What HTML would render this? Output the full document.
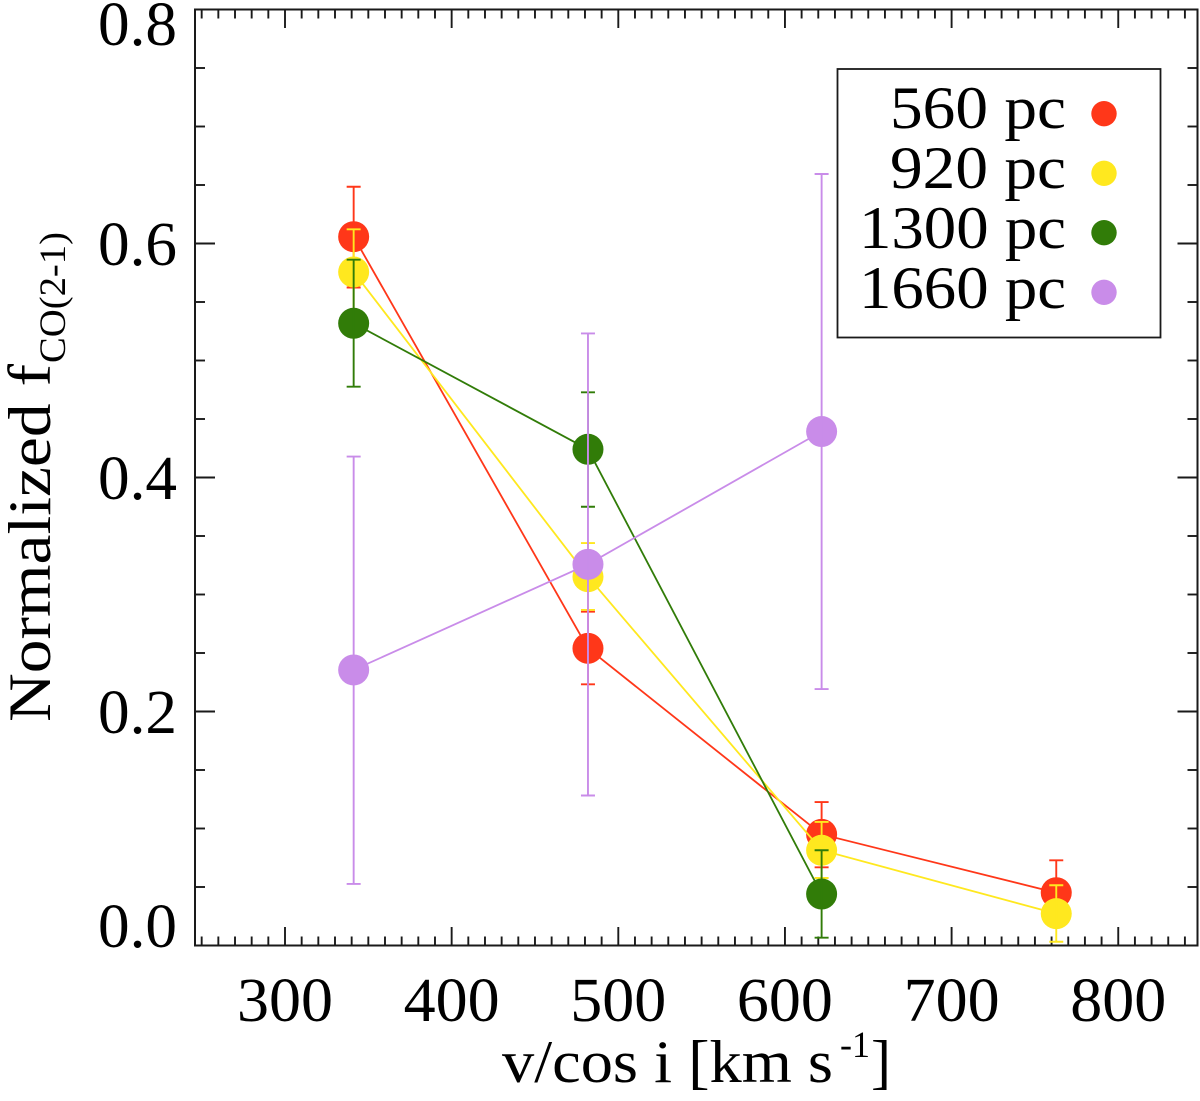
<!DOCTYPE html>
<html>
<head>
<meta charset="utf-8">
<title>Normalized CO(2-1) fraction vs velocity</title>
<style>
html,body{margin:0;padding:0;background:#fff;width:1200px;height:1101px;overflow:hidden}
svg{display:block}
text{font-family:"Liberation Serif",serif;fill:#000}
</style>
</head>
<body>
<svg id="chart" xmlns="http://www.w3.org/2000/svg" width="1200" height="1101" viewBox="0 0 1200 1101">
  <rect x="0" y="0" width="1200" height="1101" fill="#fff"/>
  <g id="axes"></g>
  <g id="marks"></g>
  <text y="1082" font-size="60"><tspan x="502" textLength="331" lengthAdjust="spacingAndGlyphs">v/cos i [km s</tspan></text>
  <text x="840" y="1057" font-size="37" textLength="30" lengthAdjust="spacingAndGlyphs">-1</text>
  <text x="871" y="1082" font-size="60">]</text>
  <text transform="translate(50,722) rotate(-90)" x="0" y="0" font-size="60" textLength="358" lengthAdjust="spacingAndGlyphs">Normalized f</text>
  <text transform="translate(65,363) rotate(-90)" x="0" y="0" font-size="37" textLength="131" lengthAdjust="spacingAndGlyphs">CO(2-1)</text>
  <g>
    <rect x="837.5" y="69" width="323" height="268.5" fill="#fff" stroke="#1a1a1a" stroke-width="1.8"/>
    <text x="890" y="128" font-size="60" textLength="176" lengthAdjust="spacingAndGlyphs">560 pc</text>
    <text x="890" y="188" font-size="60" textLength="176" lengthAdjust="spacingAndGlyphs">920 pc</text>
    <text x="859" y="248" font-size="60" textLength="207" lengthAdjust="spacingAndGlyphs">1300 pc</text>
    <text x="859" y="308" font-size="60" textLength="207" lengthAdjust="spacingAndGlyphs">1660 pc</text>
    <circle cx="1104" cy="113.7" r="12.7" fill="#ff3719"/>
    <circle cx="1104" cy="173.3" r="12.7" fill="#ffe81f"/>
    <circle cx="1104" cy="232.7" r="12.7" fill="#317c08"/>
    <circle cx="1104" cy="292.3" r="12.7" fill="#c98ce9"/>
  </g>
</svg>
<script>
const velocities = [341.2, 481.8, 622, 762.8];

const seriesNames = ['560', '920', '1300', '1660'];
const seriesColors = ['#ff3719', '#ffe81f', '#317c08', '#c98ce9'];

const values560 = [0.6058, 0.2540, 0.0950, 0.0451];
const errHigh560 = [0.6485, 0.2853, 0.1226, 0.0728];
const errLow560 = [0.5624, 0.2232, 0.0668, 0.0175];

const values920 = [0.5756, 0.3152, 0.0814, 0.0272];
const errHigh920 = [0.6121, 0.3440, 0.1056, 0.0515];
const errLow920 = [0.5389, 0.2868, 0.0577, 0.0032];

const values1300 = [0.5318, 0.4241, 0.0440];
const errHigh1300 = [0.5862, 0.4728, 0.0814];
const errLow1300 = [0.4776, 0.3750, 0.0067];

const values1660 = [0.2355, 0.3258, 0.4393];
const errHigh1660 = [0.4179, 0.5231, 0.6594];
const errLow1660 = [0.0526, 0.1282, 0.2192];

const xTickLabels = ['300', '400', '500', '600', '700', '800'];
const yTickLabels = ['0.0', '0.2', '0.4', '0.6', '0.8'];

const allValues = [values560, values920, values1300, values1660];
const allHigh = [errHigh560, errHigh920, errHigh1300, errHigh1660];
const allLow = [errLow560, errLow920, errLow1300, errLow1660];

const NS = 'http://www.w3.org/2000/svg';
const axes = document.getElementById('axes');
const marks = document.getElementById('marks');

function xPos(v) { return 285 + (v - 300) * 1.6665; }
function yPos(v) { return 945.5 - v * 1170; }

function make(parent, tag, attrs) {
  const el = document.createElementNS(NS, tag);
  for (const k in attrs) el.setAttribute(k, attrs[k]);
  parent.appendChild(el);
  return el;
}

const frame = make(axes, 'rect', {x: 195, y: 9.5, width: 1002.5, height: 936, fill: 'none', stroke: '#1a1a1a', 'stroke-width': 2});



const axisStroke = {stroke: '#1a1a1a', 'stroke-width': 1.9};

for (let t = 250; t <= 840; t += 10) {
  const major = t % 100 === 0;
  const len = major ? 18.5 : 9;
  const x = xPos(t);
  const bottomTick = make(axes, 'line', Object.assign({x1: x, x2: x, y1: 945.5, y2: 945.5 - len}, axisStroke));
  
  
  const topTick = make(axes, 'line', Object.assign({x1: x, x2: x, y1: 9.5, y2: 9.5 + len}, axisStroke));
  
  
}

for (let i = 1; i < 16; i++) {
  const major = i % 4 === 0;
  const len = major ? 20 : 10;
  const y = yPos(i * 0.05);
  const leftTick = make(axes, 'line', Object.assign({x1: 195, x2: 195 + len, y1: y, y2: y}, axisStroke));
  
  
  const rightTick = make(axes, 'line', Object.assign({x1: 1197.5, x2: 1197.5 - len, y1: y, y2: y}, axisStroke));
  
  
}

xTickLabels.forEach(function (label) {
  const t = make(axes, 'text', {x: xPos(+label), y: 1021, 'text-anchor': 'middle', 'font-size': 62, textLength: 96, lengthAdjust: 'spacingAndGlyphs'});
  t.textContent = label;
  
  
});

yTickLabels.forEach(function (label) {
  const base = Math.min(947, Math.max(45, yPos(+label) + 21.5));
  const t = make(axes, 'text', {x: 177, y: base, 'text-anchor': 'end', 'font-size': 62, textLength: 79, lengthAdjust: 'spacingAndGlyphs'});
  t.textContent = label;
  
  
});

seriesNames.forEach(function (name, s) {
  const vals = allValues[s], hi = allHigh[s], lo = allLow[s], color = seriesColors[s];
  const group = make(marks, 'g', {});
  
  

  const pts = vals.map(function (v, i) { return xPos(velocities[i]) + ',' + yPos(v); }).join(' ');
  const line = make(group, 'polyline', {points: pts, fill: 'none', stroke: color, 'stroke-width': 1.8});
  
  

  vals.forEach(function (v, i) {
    const x = xPos(velocities[i]);
    const dot = make(group, 'circle', {cx: x, cy: yPos(v), r: 15.5, fill: color});
    
    
  });

  vals.forEach(function (v, i) {
    const x = xPos(velocities[i]);
    const yHi = yPos(hi[i]), yLo = yPos(lo[i]);
    const bar = make(group, 'path', {d: 'M' + x + ' ' + yHi + 'V' + yLo + 'M' + (x - 7) + ' ' + yHi + 'H' + (x + 7) + 'M' + (x - 7) + ' ' + yLo + 'H' + (x + 7), fill: 'none', stroke: color, 'stroke-width': 1.9});
    
    
  });
});
</script>
</body>
</html>
